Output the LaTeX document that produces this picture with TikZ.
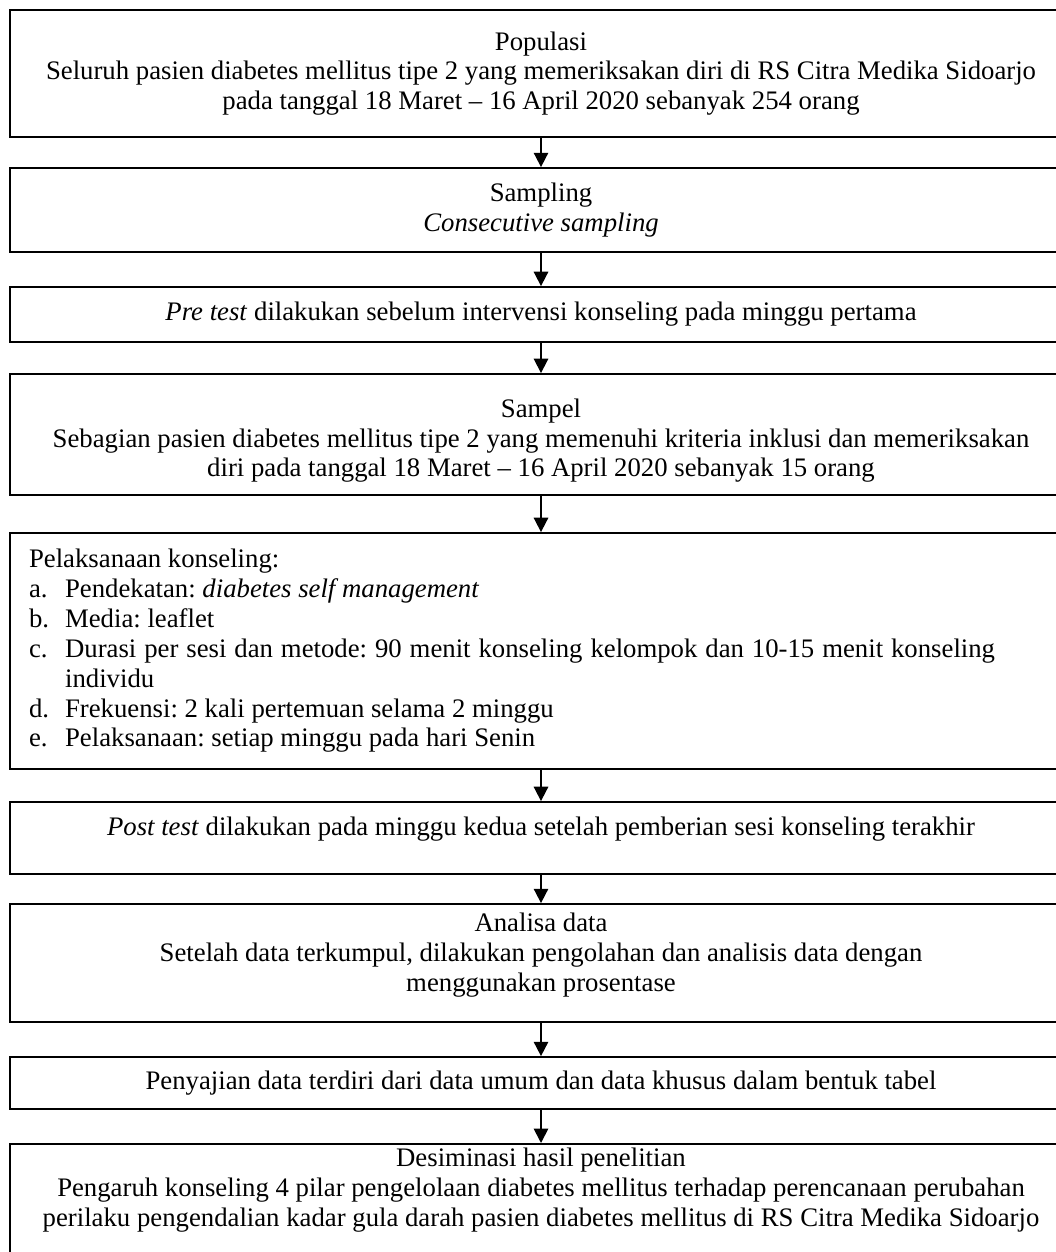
\documentclass[tikz,border=0pt]{standalone}
\usepackage{fontspec}
\setmainfont{Liberation Serif}
\usetikzlibrary{arrows.meta}
\newcommand{\listlbl}[1]{\makebox[16.3pt][l]{#1}}

\begin{document}
\begin{tikzpicture}[x=0.4525pt, y=-0.4525pt, font=\fontsize{12.1}{13.5}\selectfont\frenchspacing,
  stepbox/.style={draw, line width=0.8pt, minimum width=480.5pt, inner sep=2pt, align=center},
  flow/.style={-{Triangle[width=6.5pt, length=6.5pt]}, line width=0.8pt}]
  \useasboundingbox (0,0) rectangle (1056,1252);
  % boxes, top to bottom
  \node[stepbox, minimum height=57.5pt] (populasi) at (541,73.5)
    {Populasi\\Seluruh pasien diabetes mellitus tipe 2 yang memeriksakan diri di RS Citra Medika Sidoarjo\\pada tanggal 18 Maret -- 16 April 2020 sebanyak 254 orang};
  \node[stepbox, minimum height=38pt] (sampling) at (541,210)
    {Sampling\\\textit{Consecutive sampling}};
  \node[stepbox, minimum height=24.9pt] (pretest) at (541,314.5)
    {\textit{Pre test} dilakukan sebelum intervensi konseling pada minggu pertama};
  \node[stepbox, minimum height=54.8pt, text height=41pt] (sampel) at (541,434.5)
    {Sampel\\Sebagian pasien diabetes mellitus tipe 2 yang memenuhi kriteria inklusi dan memeriksakan\\diri pada tanggal 18 Maret -- 16 April 2020 sebanyak 15 orang};
  \node[stepbox, minimum height=106.8pt, align=flush left, inner xsep=8.6pt, text width=463.3pt] (konseling) at (541,651)
    {Pelaksanaan konseling:\\
     \listlbl{a.}Pendekatan: \textit{diabetes self management}\\
     \listlbl{b.}Media: leaflet\\
     \listlbl{c.}\makebox[420.8pt][s]{Durasi per sesi dan metode: 90 menit konseling kelompok dan 10-15 menit konseling}\\
     \listlbl{}individu\\
     \listlbl{d.}Frekuensi: 2 kali pertemuan selama 2 minggu\\
     \listlbl{e.}Pelaksanaan: setiap minggu pada hari Senin};
  \node[stepbox, minimum height=32.6pt, text depth=11pt] (posttest) at (541,838)
    {\textit{Post test} dilakukan pada minggu kedua setelah pemberian sesi konseling terakhir};
  \node[stepbox, minimum height=53.4pt, text depth=9.8pt] (analisa) at (541,963)
    {Analisa data\\Setelah data terkumpul, dilakukan pengolahan dan analisis data dengan\\menggunakan prosentase};
  \node[stepbox, minimum height=23.5pt] (penyajian) at (541,1083)
    {Penyajian data terdiri dari data umum dan data khusus dalam bentuk tabel};
  \node[stepbox, anchor=north, text depth=62pt] (desiminasi) at (541,1143)
    {Desiminasi hasil penelitian\\Pengaruh konseling 4 pilar pengelolaan diabetes mellitus terhadap perencanaan perubahan\\perilaku pengendalian kadar gula darah pasien diabetes mellitus di RS Citra Medika Sidoarjo};
  % arrows
  \draw[flow] (populasi.south) -- (sampling.north);
  \draw[flow] (sampling.south) -- (pretest.north);
  \draw[flow] (pretest.south) -- (sampel.north);
  \draw[flow] (sampel.south) -- (konseling.north);
  \draw[flow] (konseling.south) -- (posttest.north);
  \draw[flow] (posttest.south) -- (analisa.north);
  \draw[flow] (analisa.south) -- (penyajian.north);
  \draw[flow] (penyajian.south) -- (desiminasi.north);
\end{tikzpicture}
\end{document}
